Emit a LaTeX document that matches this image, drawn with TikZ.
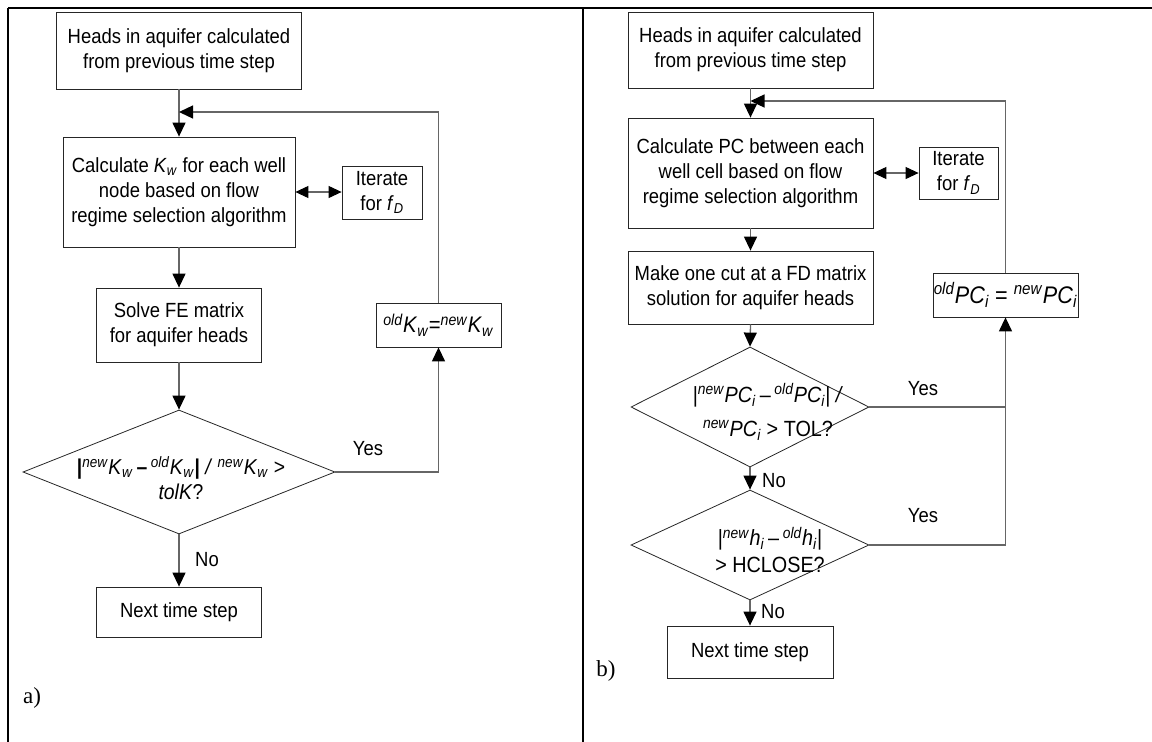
\documentclass[tikz,border=0pt]{standalone}
\usepackage{fontspec}
\setmainfont{Liberation Sans}[FakeStretch=0.9]
\newfontfamily\seriffont{Liberation Serif}
\usetikzlibrary{shapes.geometric,arrows.meta}
\newcommand\supr[1]{\textsuperscript{\textit{#1}}}
\newcommand\Kw{\textit{K}\textsubscript{\textit{w}}}
\newcommand\PCi{\textit{PC}\textsubscript{\textit{i}}}
\newcommand\hix{\textit{h}\textsubscript{\textit{i}}}
\begin{document}
\begin{tikzpicture}[x=1pt,y=-1pt,
  txt/.style={font=\fontsize{20.5}{25}\selectfont, align=center, inner sep=0pt},
  box/.style={txt, draw=black!85, line width=0.8pt},
  dia/.style={shape=diamond, draw=black!85, line width=0.8pt, inner sep=0pt},
  conn/.style={draw=black!60, line width=1.3pt, -{Triangle[length=14pt,width=13pt,color=black]}},
  plain/.style={draw=black!60, line width=1.3pt},
  dbl/.style={draw=black!60, line width=1.1pt, {Triangle[length=13pt,width=12pt,color=black]}-{Triangle[length=13pt,width=12pt,color=black]}},
  frame/.style={draw=black, line width=2.6pt},
  lbl/.style={font=\seriffont\fontsize{23}{26}\selectfont, inner sep=0pt}
]
\useasboundingbox (0,0) rectangle (1152,742);
% frame
\coordinate (F1) at (8,8);
\coordinate (F2) at (1152,8);
\coordinate (F3) at (8,742);
\coordinate (F4) at (583,8);
\coordinate (F5) at (583,742);
\draw[draw=black, line width=2pt] (F1) -- (F2);
\draw[frame] (F1) -- (F3);
\draw[frame] (F4) -- (F5);

% ---------- left panel ----------
\node[box, minimum width=245pt, minimum height=77pt] (A1) at (179,50.5) {Heads in aquifer calculated\\from previous time step};
\node[box, minimum width=232pt, minimum height=110pt] (A2) at (179,192) {Calculate \Kw{} for each well\\node based on flow\\regime selection algorithm};
\node[box, minimum width=80pt, minimum height=53pt] (AI) at (382,192.5) {Iterate\\for \textit{f}\textsubscript{\textit{D}}};
\node[box, minimum width=165pt, minimum height=74pt] (A3) at (179,325) {Solve FE matrix\\for aquifer heads};
\node[box, minimum width=125pt, minimum height=44pt, font=\fontsize{22.5}{24}\selectfont] (AK) at (438.5,325) {\supr{old}\Kw=\supr{new}\Kw};
\node[dia, minimum width=312pt, minimum height=124pt] (AD) at (179,472) {};
\node[txt, font=\fontsize{21.5}{25}\selectfont] (ADt) at (181,478) {\textbf{|}\supr{new}\Kw\,\textbf{--}\,\supr{old}\Kw\textbf{|} \textit{/} \supr{new}\Kw{} >\\\textit{tolK}?};
\node[box, minimum width=165pt, minimum height=50pt] (A4) at (179,612) {Next time step};
\coordinate (AL) at (179,112);
\node[txt] (AY) at (368,449) {Yes};
\node[txt] (AN) at (207,560) {No};
\node[lbl] (Aa) at (32,698) {a)};

\draw[conn] (A1.south) -- (A2.north);
\draw[conn] (AK.north) -- (AK.north |- AL) -- (AL);
\draw[dbl] (A2.east) -- (A2.east -| AI.west);
\draw[conn] (A2.south) -- (A3.north);
\draw[conn] (A3.south) -- (AD.north);
\draw[conn] (AD.east) -- (AD.east -| AK.south) -- (AK.south);
\draw[conn] (AD.south) -- (A4.north);

% ---------- right panel ----------
\node[box, minimum width=245pt, minimum height=76pt] (B1) at (750.5,50) {Heads in aquifer calculated\\from previous time step};
\node[box, minimum width=245pt, minimum height=110pt] (B2) at (750.5,173) {Calculate PC between each\\well cell based on flow\\regime selection algorithm};
\node[box, minimum width=79pt, minimum height=52pt] (BI) at (958.5,173) {Iterate\\for \textit{f}\textsubscript{\textit{D}}};
\node[box, minimum width=245pt, minimum height=73pt] (B3) at (750.5,287.5) {Make one cut at a FD matrix\\solution for aquifer heads};
\node[box, minimum width=145pt, minimum height=44pt, font=\fontsize{24}{26}\selectfont] (BP) at (1005.5,295) {\supr{old}\PCi{} = \supr{new}\PCi};
\node[dia, minimum width=238pt, minimum height=120pt] (BD1) at (750,407) {};
\node[txt, font=\fontsize{22}{34}\selectfont] (BD1t) at (768,412) {|\supr{new}\PCi\,--\,\supr{old}\PCi| \textit{/}\\\supr{new}\PCi{} > TOL?};
\node[dia, minimum width=238pt, minimum height=110pt] (BD2) at (750,545) {};
\node[txt, font=\fontsize{22}{27}\selectfont] (BD2t) at (770,550) {|\supr{new}\hix\,--\,\supr{old}\hix|\\> HCLOSE?};
\node[box, minimum width=166pt, minimum height=52pt] (B4) at (750,652) {Next time step};
\coordinate (BL) at (750.5,101);
\node[txt] (BY1) at (923,389) {Yes};
\node[txt] (BY2) at (923,516) {Yes};
\node[txt] (BN1) at (774,481) {No};
\node[txt] (BN2) at (773,612) {No};
\node[lbl] (Bb) at (606,671) {b)};

\draw[conn] (B1.south) -- (B2.north);
\draw[conn] (BP.north) -- (BP.north |- BL) -- (BL);
\draw[dbl] (B2.east) -- (B2.east -| BI.west);
\draw[conn] (B2.south) -- (B3.north);
\draw[conn] (B3.south) -- (BD1.north);
\draw[plain] (BD1.east) -- (BD1.east -| BP.south);
\draw[conn] (BD2.east) -- (BD2.east -| BP.south) -- (BP.south);
\draw[conn] (BD1.south) -- (BD2.north);
\draw[conn] (BD2.south) -- (B4.north);
\end{tikzpicture}
\end{document}
